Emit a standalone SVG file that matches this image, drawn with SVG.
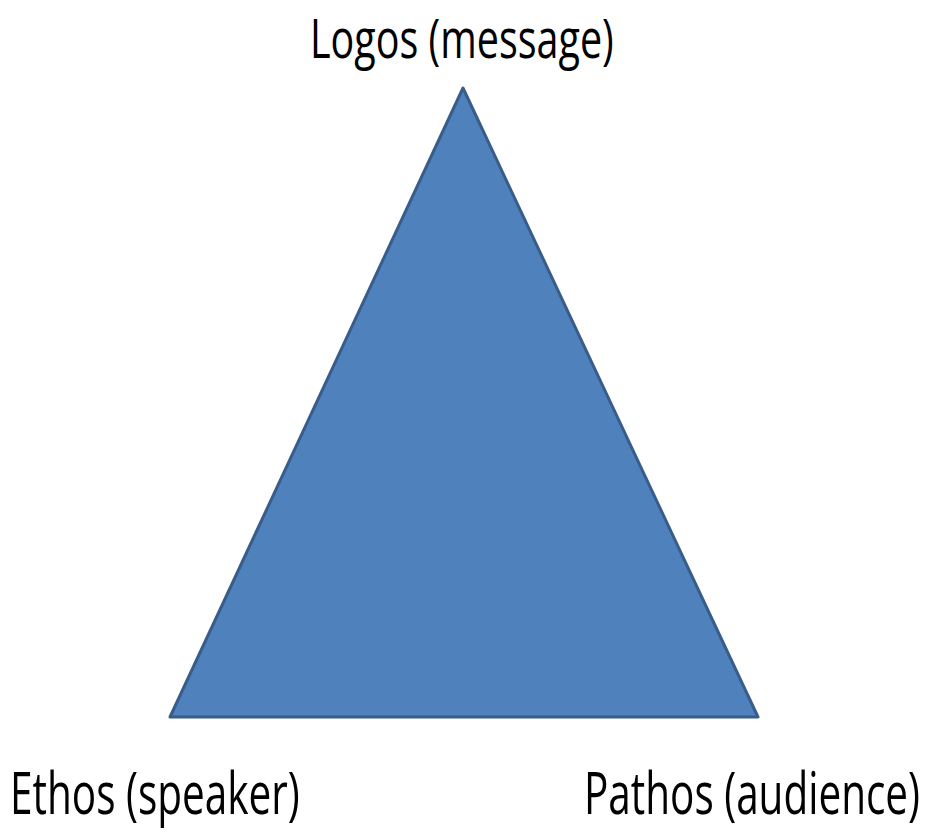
<svg xmlns="http://www.w3.org/2000/svg" width="927" height="832" viewBox="0 0 927 832">
  <style>
    .label { font-family: "Open Sans", "Noto Sans", "Liberation Sans", sans-serif; fill: #000; }
    .top { font-size: 54px; }
    .bottom { font-size: 58px; }
    .tri { fill: #4f81bd; stroke: #385d8a; stroke-width: 3; stroke-linejoin: round; }
  </style>
  <rect width="927" height="832" fill="#ffffff"/>
  <g id="triangle">
    <polygon class="tri" points="463,88 758,717 170,717"/>
  </g>
  <!-- labels are condensed horizontally with a scale, so glyphs stay tall and narrow -->
  <g id="logos">
    <text class="label top" transform="translate(310,58) scale(0.73,1)" x="0" y="0" textLength="416" lengthAdjust="spacingAndGlyphs">Logos (message)</text>
  </g>
  <g id="ethos">
    <text class="label bottom" transform="translate(10,814) scale(0.7,1)" x="0" y="0" textLength="414" lengthAdjust="spacingAndGlyphs">Ethos (speaker)</text>
  </g>
  <g id="pathos">
    <text class="label bottom" transform="translate(584,814) scale(0.7,1)" x="0" y="0" textLength="480" lengthAdjust="spacingAndGlyphs">Pathos (audience)</text>
  </g>
</svg>
